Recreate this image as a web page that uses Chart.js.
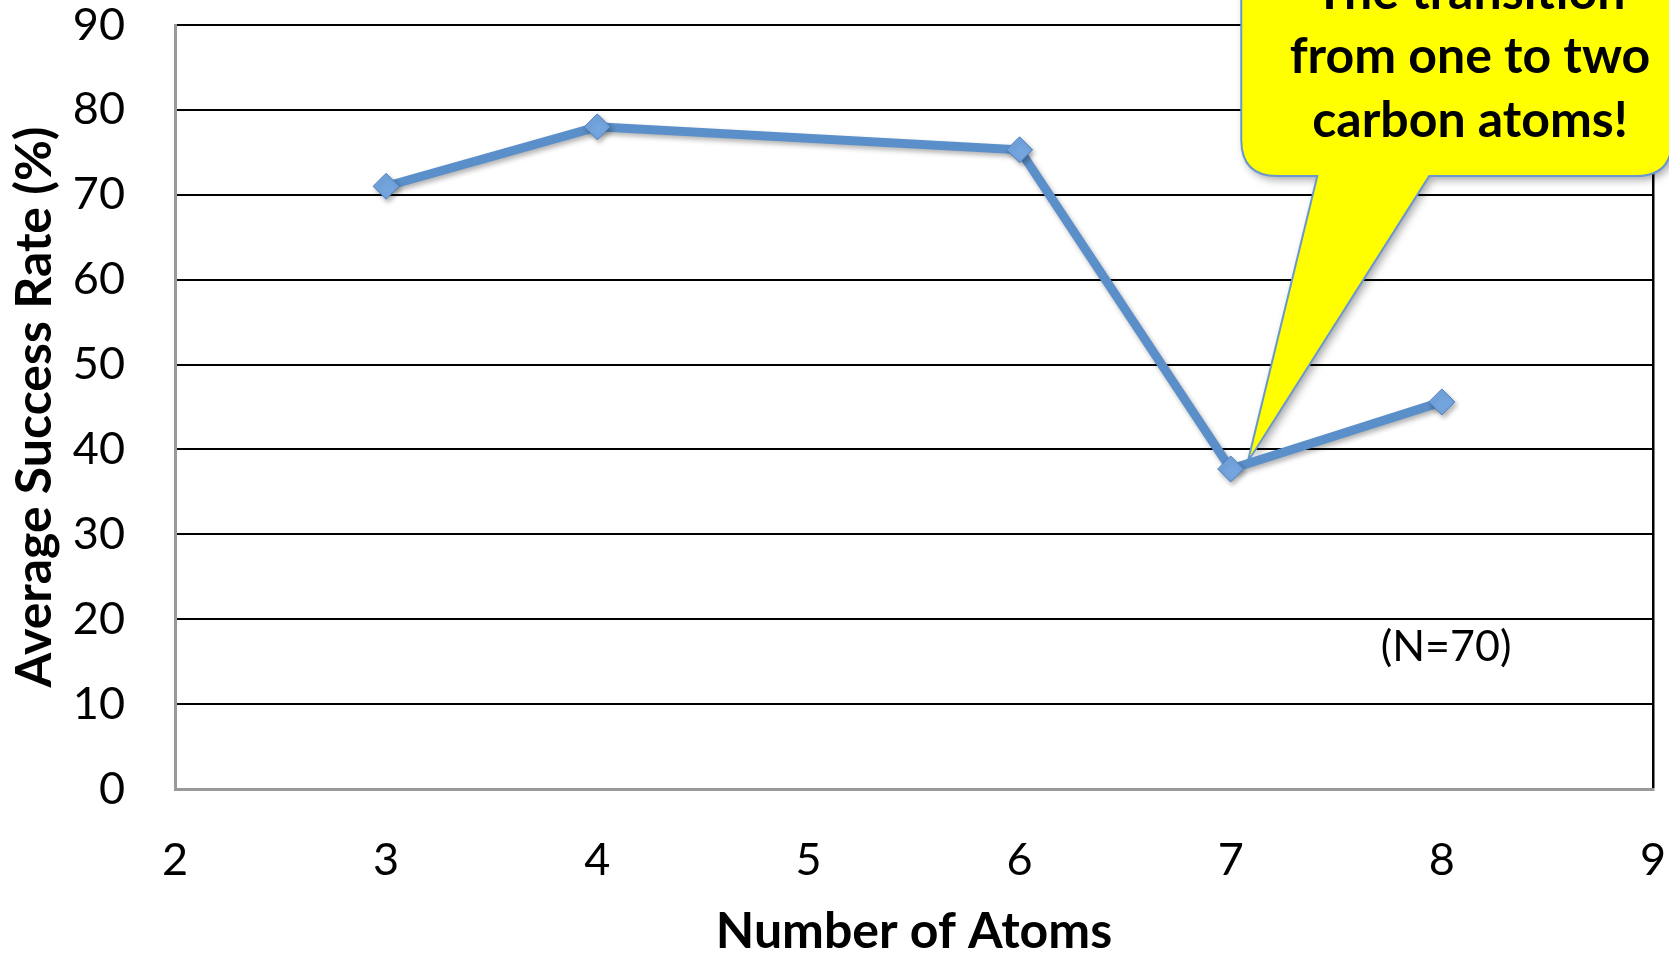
<!DOCTYPE html>
<html>
<head>
<meta charset="utf-8">
<script src="https://cdn.jsdelivr.net/npm/chart.js@4.4.0/dist/chart.umd.min.js"></script>
<style>
  html, body { margin: 0; padding: 0; background: #fff; }
  #wrap { width: 1669px; height: 953px; }
</style>
</head>
<body>
<div id="wrap"><canvas id="atoms-chart"></canvas></div>
<script>
// data
const atoms = [3, 4, 6, 7, 8];
const successRate = [71.0, 78.0, 75.3, 37.7, 45.6];
const xRange = [2, 9];
const yRange = [0, 90];
const calloutLines = ["The transition", "from one to two", "carbon atoms!"];
const sampleNote = "(N=70)";

const FONT = "Lato, 'Open Sans', sans-serif";

// callout bubble + note, placed in data units like an annotation
const calloutPlugin = {
  id: "callout",
  beforeDatasetsDraw(chart) {
    const { ctx, scales: { x, y } } = chart;
    const left = x.getPixelForValue(7.05);
    const right = x.getPixelForValue(9.09);
    const bottom = y.getPixelForValue(72.2);
    const top = -90;
    const baseL = x.getPixelForValue(7.41);
    const baseR = x.getPixelForValue(7.94);
    const tipX = x.getPixelForValue(7) + 17;
    const tipY = y.getPixelForValue(successRate[3]) - 7;
    const r = 36;

    ctx.save();
    ctx.beginPath();
    ctx.moveTo(left, top);
    ctx.lineTo(left, bottom - r);
    ctx.quadraticCurveTo(left, bottom, left + r, bottom);
    ctx.lineTo(baseL, bottom);
    ctx.lineTo(tipX, tipY);
    ctx.lineTo(baseR, bottom);
    ctx.lineTo(right - r, bottom);
    ctx.quadraticCurveTo(right, bottom, right, bottom - r);
    ctx.lineTo(right, top);
    ctx.closePath();
    ctx.shadowColor = "rgba(0,0,0,0.35)";
    ctx.shadowBlur = 9;
    ctx.shadowOffsetX = 3;
    ctx.shadowOffsetY = 4;
    ctx.fillStyle = "#ffff00";
    ctx.fill();
    ctx.shadowColor = "transparent";
    ctx.lineWidth = 2;
    ctx.strokeStyle = "#6b97cf";
    ctx.stroke();

    ctx.fillStyle = "#000";
    ctx.font = `bold 50px ${FONT}`;
    ctx.textAlign = "center";
    ctx.textBaseline = "alphabetic";
    calloutLines.forEach((line, i) => {
      ctx.fillText(line, 1470, 9 + i * 64);
    });

    ctx.font = `43px ${FONT}`;
    ctx.textBaseline = "middle";
    ctx.fillText(sampleNote, x.getPixelForValue(8.02), y.getPixelForValue(16.7));
    ctx.restore();
  }
};

// soft shadow under line and markers
const shadowPlugin = {
  id: "shadow",
  beforeDatasetDraw(chart) {
    const ctx = chart.ctx;
    ctx.save();
    ctx.shadowColor = "rgba(0,0,0,0.3)";
    ctx.shadowBlur = 5;
    ctx.shadowOffsetX = 2;
    ctx.shadowOffsetY = 3;
  },
  afterDatasetDraw(chart) {
    chart.ctx.restore();
  }
};

const data = {
  datasets: [
    {
      label: "Average Success Rate",
      data: atoms.map((a, i) => ({ x: a, y: successRate[i] })),
      borderColor: "#5b8fc9",
      borderWidth: 9,
      pointStyle: "rectRot",
      pointRadius: 13,
      pointBackgroundColor: "#74a5df",
      pointBorderColor: "#4f81bd",
      pointBorderWidth: 1,
      tension: 0,
    },
  ],
};

const config = {
  type: "line",
  data,
  plugins: [calloutPlugin, shadowPlugin],
  options: {
    responsive: true,
    maintainAspectRatio: false,
    animation: false,
    layout: { padding: { top: 25, right: 16, left: 0, bottom: 0 } },
    plugins: { legend: { display: false }, tooltip: { enabled: false } },
    scales: {
      x: {
        type: "linear",
        min: xRange[0],
        max: xRange[1],
        afterFit: (s) => {
          s.height = 164;
          s.paddingLeft = 0;
          s.paddingRight = 0;
        },
        ticks: {
          stepSize: 1,
          padding: 49,
          color: "#000",
          font: { family: FONT, size: 45, lineHeight: 1 },
          maxRotation: 0,
        },
        grid: {
          drawTicks: false,
          lineWidth: 2.5,
          color: (c) => (c.tick && c.tick.value === xRange[1] ? "#000" : "transparent"),
        },
        border: { color: "#999999", width: 3 },
        title: {
          display: true,
          text: "Number of Atoms",
          color: "#000",
          font: { family: FONT, size: 50, weight: "bold", lineHeight: 0.84 },
          padding: { top: 0, bottom: 0 },
        },
      },
      y: {
        min: yRange[0],
        max: yRange[1],
        afterFit: (s) => {
          s.width = 175;
          s.paddingTop = 0;
          s.paddingBottom = 0;
        },
        ticks: {
          stepSize: 10,
          padding: 50,
          color: "#000",
          font: { family: FONT, size: 45, lineHeight: 1 },
        },
        grid: {
          drawTicks: false,
          lineWidth: 2,
          color: (c) => (c.tick && c.tick.value === yRange[0] ? "transparent" : "#000"),
        },
        border: { color: "#999999", width: 3 },
        title: {
          display: true,
          text: "Average Success Rate (%)",
          color: "#000",
          font: { family: FONT, size: 50, weight: "bold", lineHeight: 1 },
          padding: { top: 10, bottom: 0 },
        },
      },
    },
  },
};

const atomsChart = new Chart(document.getElementById("atoms-chart"), config);
</script>
</body>
</html>
